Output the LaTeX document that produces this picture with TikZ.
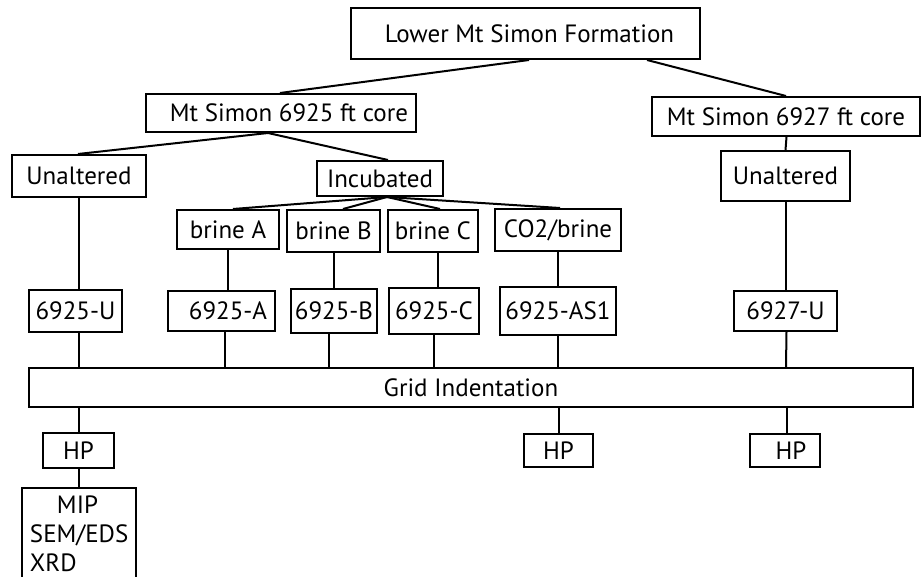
\documentclass[tikz,border=0pt]{standalone}
\usepackage{fontspec}
\setmainfont{PT Sans}
\begin{document}
\begin{tikzpicture}[x=1pt,y=-1pt,
  box/.style={draw,line width=2pt,rectangle,inner sep=0pt,font=\fontsize{25}{29}\selectfont},
  conn/.style={line width=2pt}]
\clip (0,0) rectangle (922,577);
\fill[white] (0,0) rectangle (922,577);
% level 0
\node[box,minimum width=349,minimum height=51] (top) at (525.5,33.5) {\hspace*{8pt}Lower Mt Simon Formation};
% level 1
\node[box,minimum width=270,minimum height=38] (c25) at (281,113) {\hspace*{16pt}Mt Simon 6925 ft core};
\node[box,minimum width=268,minimum height=39] (c27) at (786,116.5) {Mt Simon 6927 ft core};
% level 2
\node[box,minimum width=134,minimum height=42] (un1) at (79,176) {Unaltered};
\node[box,minimum width=126,minimum height=35] (inc) at (380,178.5) {Incubated};
\node[box,minimum width=129,minimum height=50] (un2) at (785.5,176) {Unaltered};
% level 3
\node[box,minimum width=102,minimum height=39] (bA) at (228,229.5) {brine A};
\node[box,minimum width=93,minimum height=42] (bB) at (333.5,231) {brine B};
\node[box,minimum width=90,minimum height=42] (bC) at (433,231) {brine C};
\node[box,minimum width=126,minimum height=42] (co2) at (558,230) {CO2/brine};
% level 4
\node[box,minimum width=93,minimum height=42] (u25) at (75.5,311) {6925-U};
\node[box,minimum width=107,minimum height=40] (a25) at (221.5,311) {\hspace*{13pt}6925-A};
\node[box,minimum width=86,minimum height=44] (b25) at (334,311) {6925-B};
\node[box,minimum width=90,minimum height=46] (cc25) at (434,311) {6925-C};
\node[box,minimum width=116,minimum height=48] (as1) at (558,311) {6925-AS1};
\node[box,minimum width=103,minimum height=40] (u27) at (785.5,311) {6927-U};
% grid
\node[box,minimum width=884,minimum height=39] (grid) at (471,387.5) {Grid Indentation};
% HP
\node[box,minimum width=71,minimum height=35] (hp1) at (78.5,450.5) {HP};
\node[box,minimum width=69,minimum height=33] (hp2) at (558.5,450.5) {HP};
\node[box,minimum width=70,minimum height=33] (hp3) at (785,450.5) {\hspace*{12pt}HP};
\node[box,minimum width=114,minimum height=92,text width=98pt,align=left] (mip) at (79,534) {\hspace*{27pt}MIP\\SEM/EDS\\XRD};
% connectors
\draw[conn] ([xshift=3.5]top.south) -- ([xshift=-1]c25.north);
\draw[conn] ([xshift=121.5]top.south) -- (c27.north);
\draw[conn] ([xshift=-13]c25.south) -- ([xshift=-1]un1.north);
\draw[conn] ([xshift=-13]c25.south) -- ([xshift=8]inc.north);
\draw[conn] ([xshift=0.5]c27.south) -- (un2.north);
\draw[conn] ([xshift=7]inc.south) -- ([xshift=5]bA.north);
\draw[conn] ([xshift=7]inc.south) -- ([xshift=9.5]bB.north);
\draw[conn] ([xshift=7]inc.south) -- ([xshift=7]bC.north);
\draw[conn] ([xshift=7]inc.south) -- ([xshift=2]co2.north);
\draw[conn] (un1.south) -- (un1.south |- u25.north);
\draw[conn] (bA.south) -- (bA.south |- a25.north);
\draw[conn] (bB.south) -- (bB.south |- b25.north);
\draw[conn] ([xshift=5]bC.south) -- ([xshift=5]bC.south |- cc25.north);
\draw[conn] (co2.south) -- (co2.south |- as1.north);
\draw[conn] (un2.south) -- (un2.south |- u27.north);
\draw[conn] ([xshift=3.5]u25.south) -- ([xshift=3.5]u25.south |- grid.north);
\draw[conn] ([xshift=3.5]a25.south) -- ([xshift=3.5]a25.south |- grid.north);
\draw[conn] ([xshift=-5]b25.south) -- ([xshift=-5]b25.south |- grid.north);
\draw[conn] (cc25.south) -- (cc25.south |- grid.north);
\draw[conn] (as1.south) -- (as1.south |- grid.north);
\draw[conn] ([xshift=1]u27.south) -- ([xshift=0.5]u27.south |- grid.north);
\draw[conn] (grid.south -| hp1.north) -- (hp1.north);
\draw[conn] (grid.south -| hp2.north) -- (hp2.north);
\draw[conn] ([xshift=1.5]grid.south -| hp3.north) -- ([xshift=1.5]hp3.north);
\draw[conn] (hp1.south) -- (hp1.south |- mip.north);
\end{tikzpicture}
\end{document}
